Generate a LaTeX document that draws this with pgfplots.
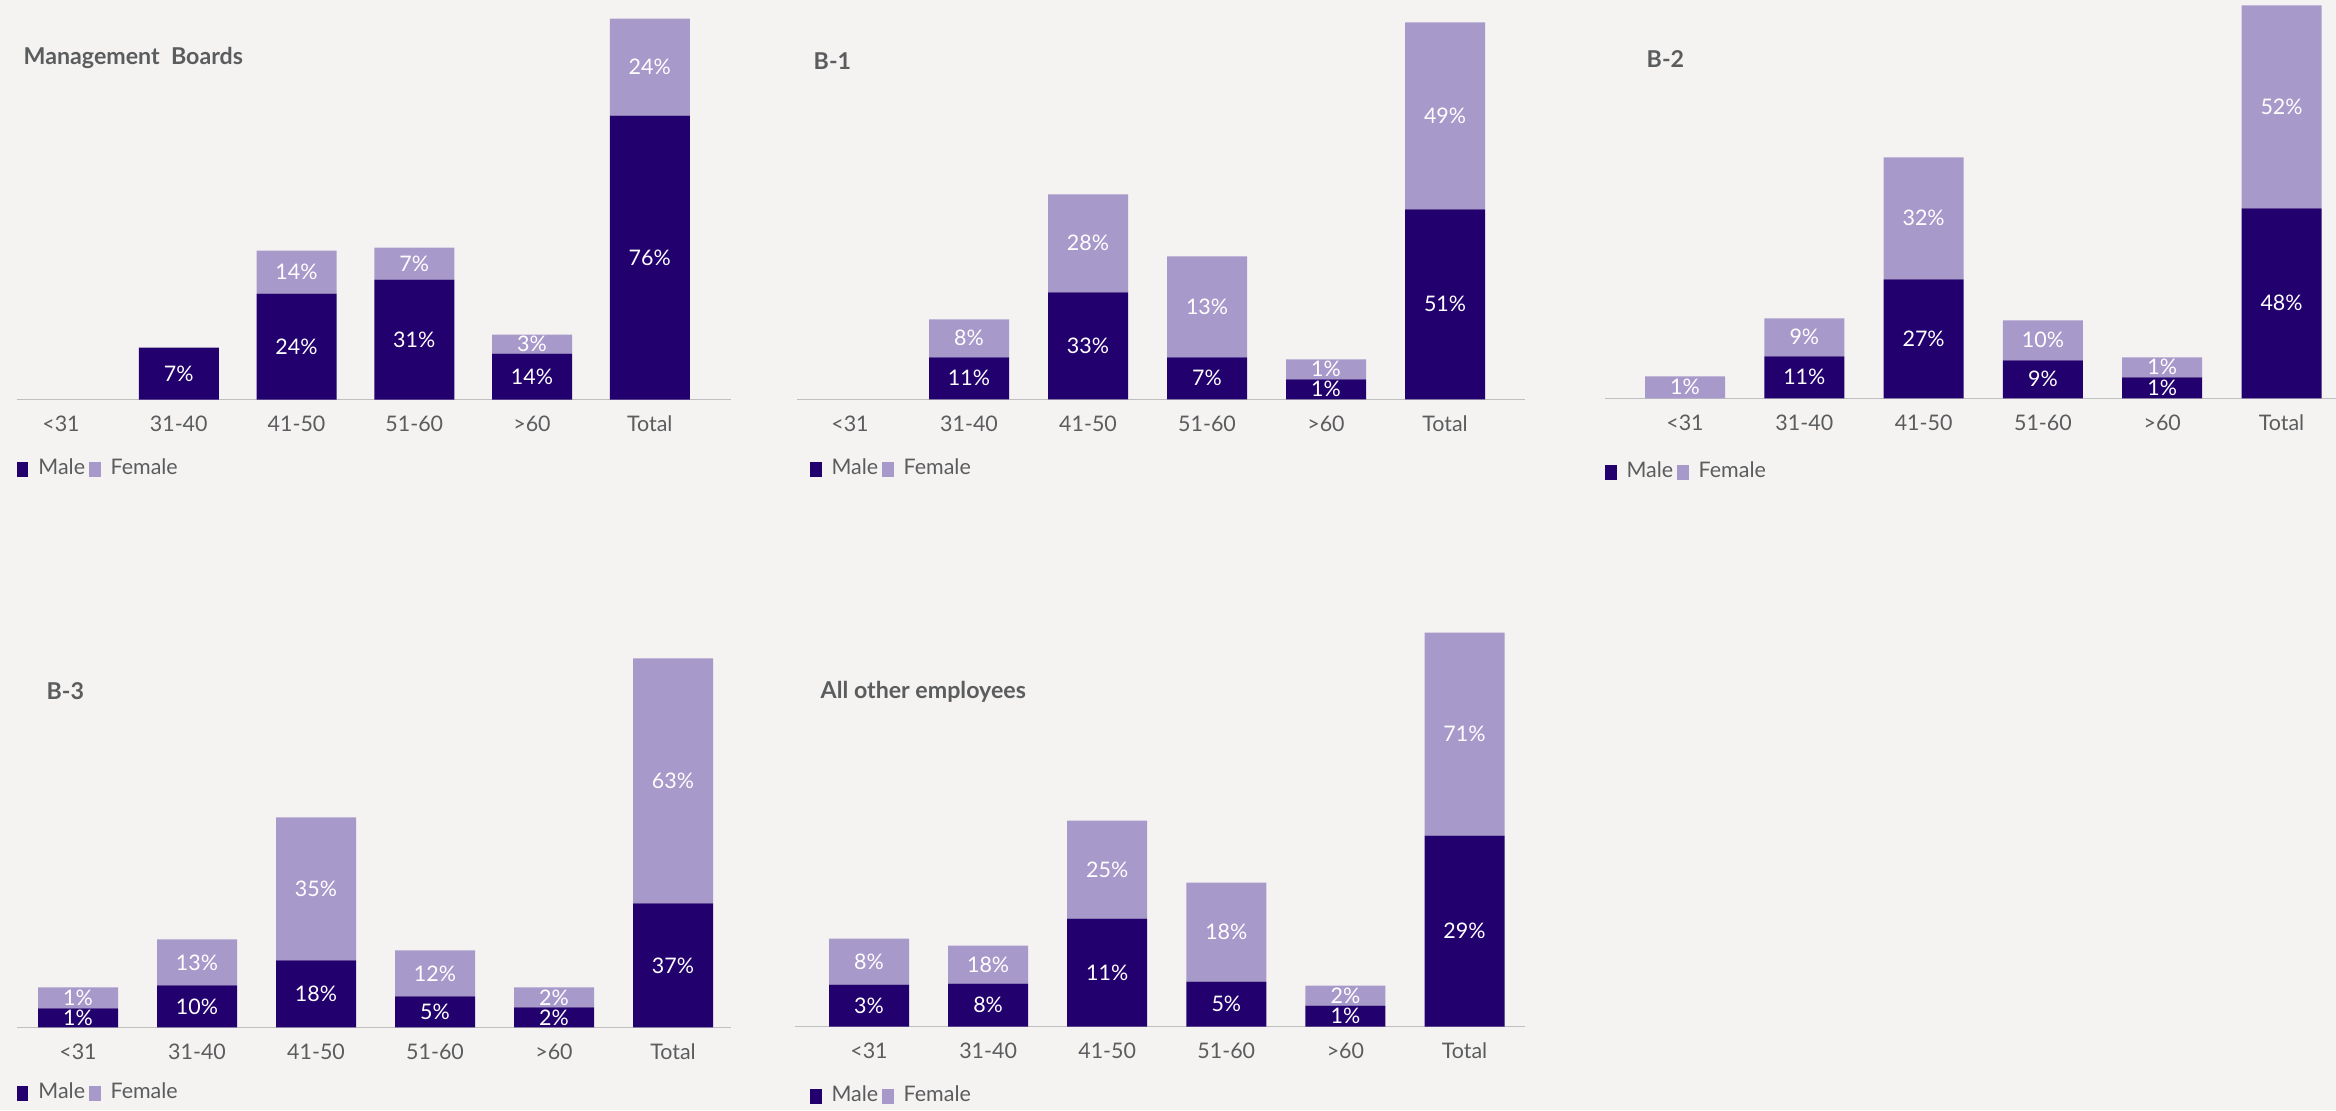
\documentclass[border=0pt]{standalone}
\usepackage{fontspec}
\setmainfont{Lato}
\usepackage{pgfplots}
\pgfplotsset{compat=1.18}
\definecolor{male}{HTML}{22006E}
\definecolor{female}{HTML}{A899CB}
\definecolor{axisgray}{HTML}{BFBFBF}
\definecolor{txtgray}{HTML}{5B5C5E}
\definecolor{bgcol}{HTML}{F4F3F1}
\newcommand\fs{\fontsize{6.1pt}{7pt}\selectfont}
\newcommand\ft{\fontsize{6.6pt}{8pt}\selectfont\bfseries}
\pgfplotsset{
  sq legend/.style={legend image code/.code={\fill[##1] (0mm,-0.75mm) rectangle (1.15mm,0.75mm);}},
  panel/.style={
    anchor=origin, y=0.1mm, ymin=0, ymax=400, enlargelimits=false, clip=false,
    axis x line=bottom, axis y line=none,
    x axis line style={-, draw=axisgray, line width=0.15mm},
    xtick={0,...,5}, xticklabels={<31,31-40,41-50,51-60,>60,Total},
    major tick length=0pt, xtick style={draw=none}, ytick=\empty,
    xticklabel style={anchor=base, yshift=-3.2mm, inner sep=0pt, font=\fs, text=txtgray},
    ybar stacked, bar width=8mm,
    point meta=explicit symbolic,
    nodes near coords,
    every node near coord/.append style={anchor=center, font=\fs, text=white, inner sep=0pt},
    legend columns=2,
    legend style={draw=none, fill=none, inner sep=0pt, outer sep=0pt, anchor=west, font=\fs, text=txtgray,
      nodes={inner sep=0pt},
      /tikz/every even column/.append style={column sep=0.4mm},
      /tikz/every odd column/.append style={column sep=1.0mm}},
  }
}
\begin{document}
\begin{tikzpicture}
\path[use as bounding box] (0,0) rectangle (233.6mm,-111mm);
\fill[bgcol] (0,0) rectangle (233.6mm,-111mm);

% Panel 1: Management Boards
\begin{axis}[panel, at={(6.1mm,-39.95mm)}, x=11.775mm, xmin=-0.374, xmax=5.69,
  legend style={at={(axis cs:-0.374,-69.5)}}]
\addplot[fill=male, draw=none, sq legend] coordinates {(1,52)[7\%] (2,106)[24\%] (3,120)[31\%] (4,46)[14\%] (5,284)[76\%]};
\addplot[fill=female, draw=none, sq legend] coordinates {(1,0)[\relax] (2,43)[14\%] (3,32)[7\%] (4,19)[3\%] (5,97)[24\%]};
\legend{Male,Female}
\end{axis}

% Panel 2: B-1
\begin{axis}[panel, at={(85.0mm,-39.93mm)}, x=11.9mm, xmin=-0.445, xmax=5.67,
  legend style={at={(axis cs:-0.336,-70)}}]
\addplot[fill=male, draw=none, sq legend] coordinates {(1,42)[11\%] (2,107)[33\%] (3,42)[7\%] (4,20)[1\%] (5,190)[51\%]};
\addplot[fill=female, draw=none, sq legend] coordinates {(1,38)[8\%] (2,98)[28\%] (3,101)[13\%] (4,20)[1\%] (5,187)[49\%]};
\legend{Male,Female}
\end{axis}

% Panel 3: B-2
\begin{axis}[panel, at={(168.5mm,-39.83mm)}, x=11.93mm, xmin=-0.67, xmax=5.457,
  legend style={at={(axis cs:-0.67,-74)}}]
\addplot[fill=male, draw=none, sq legend] coordinates {(0,0)[\relax] (1,42)[11\%] (2,119)[27\%] (3,38)[9\%] (4,21)[1\%] (5,190)[48\%]};
\addplot[fill=female, draw=none, sq legend] coordinates {(0,22)[1\%] (1,38)[9\%] (2,122)[32\%] (3,40)[10\%] (4,20)[1\%] (5,203)[52\%]};
\legend{Male,Female}
\end{axis}

% Panel 4: B-3
\begin{axis}[panel, at={(7.8mm,-102.73mm)}, x=11.9mm, xmin=-0.513, xmax=5.49,
  legend style={at={(axis cs:-0.513,-66)}}]
\addplot[fill=male, draw=none, sq legend] coordinates {(0,19)[1\%] (1,42)[10\%] (2,67)[18\%] (3,31)[5\%] (4,20)[2\%] (5,124)[37\%]};
\addplot[fill=female, draw=none, sq legend] coordinates {(0,21)[1\%] (1,46)[13\%] (2,143)[35\%] (3,46)[12\%] (4,20)[2\%] (5,245)[63\%]};
\legend{Male,Female}
\end{axis}

% Panel 5: All other employees
\begin{axis}[panel, at={(86.9mm,-102.67mm)}, x=11.91mm, xmin=-0.62, xmax=5.51,
  legend style={at={(axis cs:-0.495,-70)}}]
\addplot[fill=male, draw=none, sq legend] coordinates {(0,42)[3\%] (1,43)[8\%] (2,108)[11\%] (3,45)[5\%] (4,21)[1\%] (5,191)[29\%]};
\addplot[fill=female, draw=none, sq legend] coordinates {(0,46)[8\%] (1,38)[18\%] (2,98)[25\%] (3,99)[18\%] (4,20)[2\%] (5,203)[71\%]};
\legend{Male,Female}
\end{axis}

\begin{scope}[every node/.style={anchor=base west, inner sep=0pt, font=\ft, text=txtgray}]
\node at (2.3mm,-6.4mm) {Management\ \ Boards};
\node at (81.3mm,-6.9mm) {B-1};
\node at (164.6mm,-6.73mm) {B-2};
\node at (4.6mm,-69.97mm) {B-3};
\node at (82.0mm,-69.83mm) {All other employees};
\end{scope}
\end{tikzpicture}
\end{document}
